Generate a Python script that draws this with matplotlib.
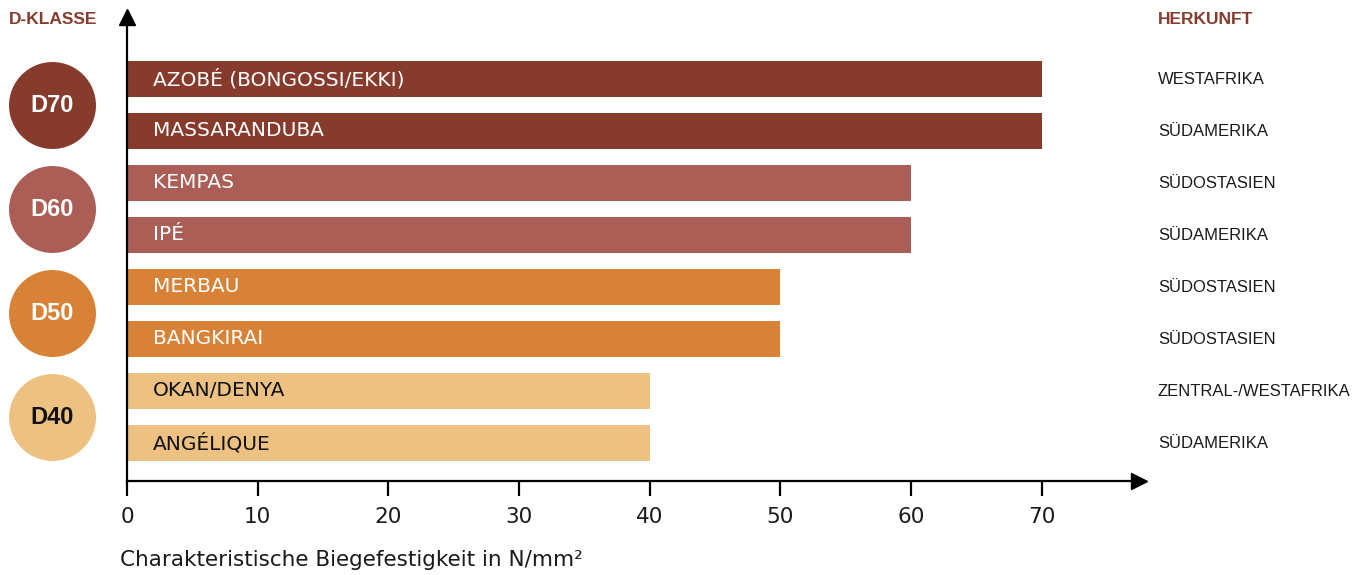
import matplotlib.pyplot as plt
import matplotlib.transforms as mtransforms

# data
woods = ["AZOBÉ (BONGOSSI/EKKI)", "MASSARANDUBA", "KEMPAS", "IPÉ",
         "MERBAU", "BANGKIRAI", "OKAN/DENYA", "ANGÉLIQUE"]
strength = [70, 70, 60, 60, 50, 50, 40, 40]
origin = ["WESTAFRIKA", "SÜDAMERIKA", "SÜDOSTASIEN", "SÜDAMERIKA",
          "SÜDOSTASIEN", "SÜDOSTASIEN", "ZENTRAL-/WESTAFRIKA", "SÜDAMERIKA"]
classes = ["D70", "D60", "D50", "D40"]
class_colors = ["#863b2d", "#aa5e56", "#d88237", "#edc181"]
class_text = ["white", "white", "white", "#111111"]
bar_text = ["white", "white", "white", "white", "white", "white", "#111111", "#111111"]
bar_colors = [class_colors[i // 2] for i in range(len(woods))]

W, H = 1369, 575
PX = 13.07  # pixel per unit on the x axis
fig = plt.figure(figsize=(W / 100, H / 100), dpi=100)

# axes placed so that 0 sits at px 127, arrows end near px 1147 / px 9
x_end, y_top = 1139, 17
ax = fig.add_axes([127 / W, 1 - 481 / H, (x_end - 127) / W, (481 - y_top) / H])
ax.set_xlim(0, (x_end - 127) / PX)
ax.set_ylim((481 - 79) / 52, (y_top - 79) / 52)

ypos = list(range(len(woods)))
ax.barh(ypos, strength, height=0.69, color=bar_colors, zorder=2)

label_font = ["DejaVu Sans"]
for y, name, col in zip(ypos, woods, bar_text):
    ax.text(2.0, y, name, va="center", ha="left", color=col, fontsize=14.5,
            family=label_font)

# origin column
tr = mtransforms.blended_transform_factory(fig.transFigure, ax.transData)
for y, o in zip(ypos, origin):
    ax.text(1158 / W, y, o, transform=tr, va="center", ha="left", fontsize=12,
            family=["Liberation Sans"], color="#1a1a1a", clip_on=False)

# class circles
for k, (cls, col, tcol) in enumerate(zip(classes, class_colors, class_text)):
    yc = (ypos[2 * k] + ypos[2 * k + 1]) / 2
    ax.scatter([52 / W], [yc], s=3920, color=col, transform=tr, clip_on=False,
               linewidths=0, zorder=3)
    ax.text(52 / W, yc, cls, transform=tr, ha="center", va="center", fontsize=17,
            fontweight="bold", family=["Liberation Sans"], color=tcol, zorder=4)

# headers
fig.text(9 / W, 1 - 19 / H, "D-KLASSE", ha="left", va="center", fontsize=12.5,
         fontweight="bold", family=["Liberation Sans"], color="#863b2d")
fig.text(1158 / W, 1 - 19 / H, "HERKUNFT", ha="left", va="center", fontsize=12.5,
         fontweight="bold", family=["Liberation Sans"], color="#863b2d")

# axes styling
for s in ["top", "right"]:
    ax.spines[s].set_visible(False)
for s in ["left", "bottom"]:
    ax.spines[s].set_linewidth(1.6)
    ax.spines[s].set_color("black")
ax.plot(1, 0, ">", color="black", markersize=11, transform=ax.transAxes, clip_on=False)
ax.plot(0, 1, "^", color="black", markersize=11, transform=ax.transAxes, clip_on=False)

ax.set_xticks([0, 10, 20, 30, 40, 50, 60, 70])
ax.set_yticks([])
ax.tick_params(axis="x", direction="out", length=11, width=1.6, pad=8,
               labelsize=15.5, labelcolor="#1a1a1a")
for lab in ax.get_xticklabels():
    lab.set_family(label_font)

fig.text(120 / W, 1 - 560 / H, "Charakteristische Biegefestigkeit in N/mm²",
         ha="left", va="center", fontsize=15.5, family=label_font,
         color="#1a1a1a")

fig.savefig("out.png", dpi=100)
